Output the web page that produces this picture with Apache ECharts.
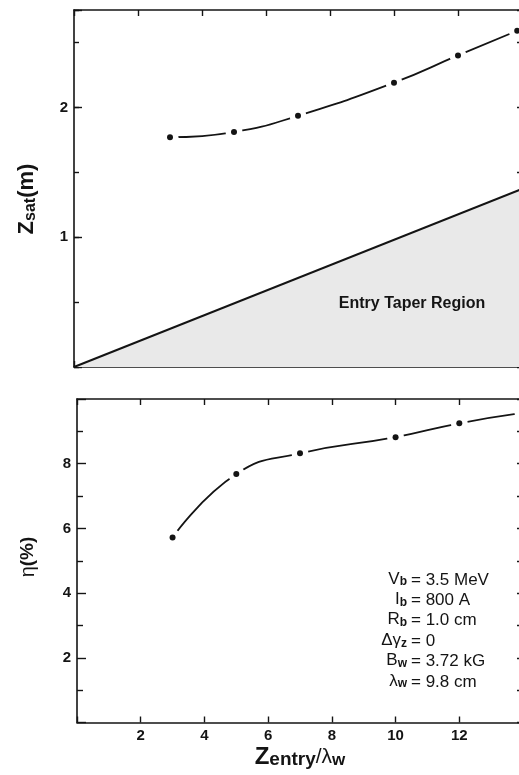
<!DOCTYPE html>
<html>
<head>
<meta charset="utf-8">
<script src="https://cdn.jsdelivr.net/npm/echarts@6/dist/echarts.min.js"></script>
<style>
html,body{margin:0;padding:0;background:#fff;}
#chart{width:519px;height:775px;}
</style>
</head>
<body>
<div id="chart"></div>
<script>
// ---- data ----
const zEntryTop = [3, 5, 7, 10, 12, 13.85];
const zSat = [1.77, 1.81, 1.935, 2.19, 2.40, 2.59];
const taperX = [0, 14];
const taperZ = [0, 1.372];
const zEntryBottom = [3, 5, 7, 10, 12, 14];
const efficiency = [5.72, 7.68, 8.32, 8.82, 9.25, 9.57];
const xTickLabels = [2, 4, 6, 8, 10, 12];
const zSatTickLabels = [1, 2];
const effTickLabels = [2, 4, 6, 8];
const paramNames = ['{m|V}{s|b}', '{m|I}{s|b}', '{m|R}{s|b}', '{m|\u0394\u03b3}{s|z}', '{m|B}{s|w}', '{m|\u03bb}{s|w}'];
const paramValues = ['= 3.5 MeV', '= 800 A', '= 1.0 cm', '= 0', '= 3.72 kG', '= 9.8 cm'];
const regionLabel = 'Entry Taper Region';

const FONT = '"Liberation Sans", Arial, Helvetica, sans-serif';
const INK = '#141414';

const chart = echarts.init(document.getElementById('chart'), null, {renderer: 'canvas'});

function pair(a, b) { return a.map((v, i) => [v, b[i]]); }

const axisLine = {show: true, onZero: false, lineStyle: {color: INK, width: 1.6}};
function xAx(grid, pos, labels) {
  return {
    type: 'value', gridIndex: grid, position: pos, min: 0, max: 14, interval: 2,
    axisLine: axisLine,
    axisTick: {show: true, inside: true, length: 6, lineStyle: {color: INK, width: 1.4}},
    splitLine: {show: false},
    axisLabel: labels ? {
      show: true, margin: 6, color: INK, fontFamily: FONT, fontWeight: 'bold', fontSize: 15,
      formatter: v => (xTickLabels.indexOf(v) >= 0 ? String(v) : '')
    } : {show: false}
  };
}
function yAx(grid, pos, max, interval, tickLen, labelList, minorLen, showLine) {
  return {
    type: 'value', gridIndex: grid, position: pos, min: 0, max: max, interval: interval,
    axisLine: showLine === false ? {show: false} : axisLine,
    axisTick: {show: true, inside: true, length: tickLen, lineStyle: {color: INK, width: 1.4}},
    minorTick: minorLen ? {show: true, splitNumber: 2, length: minorLen, lineStyle: {color: INK, width: 1.4}} : {show: false},
    splitLine: {show: false},
    axisLabel: labelList ? {
      show: true, margin: 6, color: INK, fontFamily: FONT, fontWeight: 'bold', fontSize: 15,
      formatter: v => (labelList.indexOf(v) >= 0 ? String(v) : '')
    } : {show: false}
  };
}

function curveSeries(xi, yi, data) {
  // smooth curve; white symbols open the gaps around each measured point,
  // and a small round label box draws the black dot on top of each gap
  return {
    type: 'line', xAxisIndex: xi, yAxisIndex: yi, data: data, smooth: 0.5,
    showSymbol: true, symbol: 'circle', symbolSize: 17,
    itemStyle: {color: '#fff', borderWidth: 0, opacity: 1},
    lineStyle: {color: INK, width: 1.8},
    label: {
      show: true, position: 'inside', formatter: '{d| }',
      rich: {d: {width: 6, height: 6, borderRadius: 3, backgroundColor: INK, fontSize: 1, lineHeight: 6, padding: 0}}
    },
    silent: true
  };
}

const graphics = [];
// parameter block
paramNames.forEach((t, i) => {
  const y = 570 + i * 20.4;
  graphics.push({type: 'text', x: 407, y: y, z: 100, style: {
    text: t, align: 'right', verticalAlign: 'top', fill: INK,
    rich: {
      m: {fontFamily: FONT, fontSize: 17, lineHeight: 18, fill: INK},
      s: {fontFamily: FONT, fontWeight: 'bold', fontSize: 12, lineHeight: 12, padding: [11, 0, 0, 0], verticalAlign: 'bottom', fill: INK}
    }
  }});
  graphics.push({type: 'text', x: 411, y: y + 1.5, z: 100, style: {
    text: paramValues[i], align: 'left', verticalAlign: 'top', fill: INK,
    font: '17px ' + FONT
  }});
});
// region label
graphics.push({type: 'text', x: 412, y: 304, z: 100, style: {
  text: regionLabel, align: 'center', verticalAlign: 'middle', fill: INK,
  font: 'bold 16px ' + FONT
}});
// y titles
graphics.push({type: 'text', x: 27, y: 199, z: 100, rotation: Math.PI / 2, style: {
  text: '{b|Z}{s|sat}{b|(m)}', align: 'center', verticalAlign: 'middle',
  rich: {
    b: {fontFamily: FONT, fontWeight: 'bold', fontSize: 22, lineHeight: 24, fill: INK},
    s: {fontFamily: FONT, fontWeight: 'bold', fontSize: 16, lineHeight: 16, padding: [14, 0, 0, 0], verticalAlign: 'bottom', fill: INK}
  }
}});
graphics.push({type: 'text', x: 28, y: 557, z: 100, rotation: Math.PI / 2, style: {
  text: '{g|\u03b7}{b|(%)}', align: 'center', verticalAlign: 'middle',
  rich: {
    g: {fontFamily: FONT, fontSize: 20, lineHeight: 22, fill: INK},
    b: {fontFamily: FONT, fontWeight: 'bold', fontSize: 19, lineHeight: 22, fill: INK}
  }
}});
// x title
graphics.push({type: 'text', x: 300, y: 757, z: 100, style: {
  text: '{b|Z}{s|entry}{r|/\u03bb}{w|w}', align: 'center', verticalAlign: 'middle',
  rich: {
    b: {fontFamily: FONT, fontWeight: 'bold', fontSize: 24, lineHeight: 24, fill: INK},
    s: {fontFamily: FONT, fontWeight: 'bold', fontSize: 19, lineHeight: 18, padding: [12, 0, 0, 0], verticalAlign: 'bottom', fill: INK},
    r: {fontFamily: FONT, fontSize: 21, lineHeight: 24, fill: INK},
    w: {fontFamily: FONT, fontWeight: 'bold', fontSize: 17, lineHeight: 16, padding: [14, 0, 0, 0], verticalAlign: 'bottom', fill: INK}
  }
}});

const option = {
  animation: false,
  backgroundColor: '#fff',
  grid: [
    {left: 74, width: 448, top: 10, height: 357, outerBoundsMode: 'none', containLabel: false},
    {left: 77, width: 446, top: 399, height: 323.5, outerBoundsMode: 'none', containLabel: false}
  ],
  xAxis: [
    xAx(0, 'bottom', false),
    xAx(0, 'top', false),
    xAx(1, 'bottom', true),
    xAx(1, 'top', false)
  ],
  yAxis: [
    yAx(0, 'left', 2.75, 0.5, 5, zSatTickLabels, 0, true),
    yAx(0, 'right', 2.75, 0.5, 5, null, 0, true),
    yAx(0, 'left', 2.75, 1, 8, null, 0, false),
    yAx(1, 'left', 10, 2, 9, effTickLabels, 6, true),
    yAx(1, 'right', 10, 1, 6, null, 0, true)
  ],
  series: [
    {type: 'line', xAxisIndex: 0, yAxisIndex: 0, data: pair(taperX, taperZ), showSymbol: false,
     lineStyle: {color: INK, width: 2}, areaStyle: {color: '#e9e9e9', opacity: 1, origin: 'start'}, silent: true},
    curveSeries(0, 0, pair(zEntryTop, zSat)),
    curveSeries(2, 3, pair(zEntryBottom, efficiency))
  ],
  graphic: graphics
};
chart.setOption(option);
</script>
</body>
</html>
